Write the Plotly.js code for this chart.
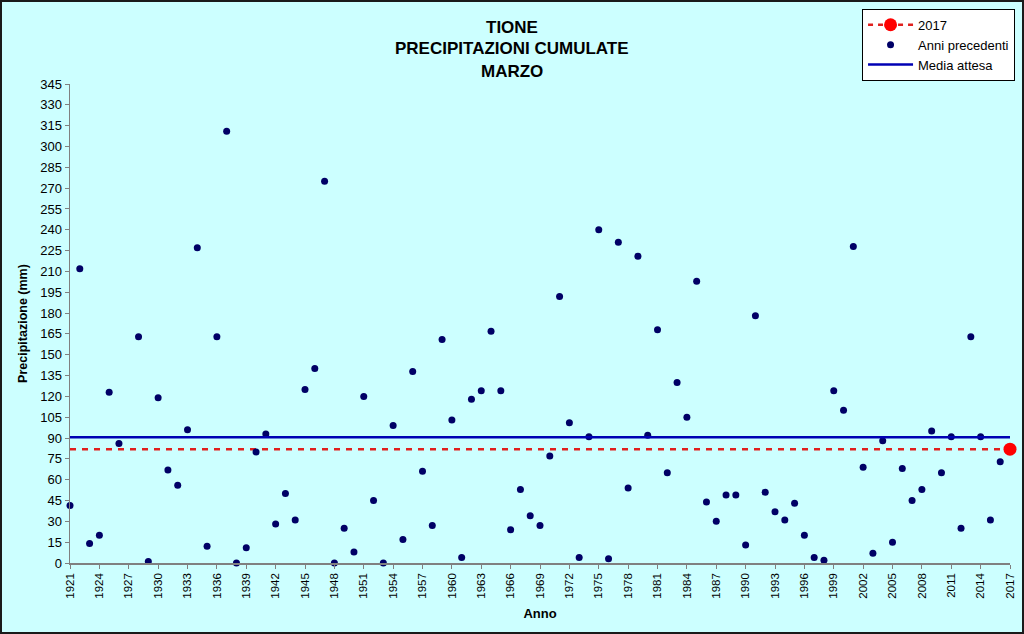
<!DOCTYPE html>
<html>
<head>
<meta charset="utf-8">
<script src="https://cdn.plot.ly/plotly-3.0.1.min.js"></script>
<style>
html,body{margin:0;padding:0;background:#CCFFFF;}
#wrap{position:relative;width:1024px;height:634px;}
#chart{width:1024px;height:634px;}
#frame{position:absolute;left:0;top:0;width:1024px;height:634px;box-sizing:border-box;border:2px solid #1a1a1a;pointer-events:none;}
</style>
</head>
<body>
<div id="wrap"><div id="chart"></div><div id="frame"></div></div>
<script>
// Data
const years = [1921,1922,1923,1924,1925,1926,1927,1928,1929,1930,
  1931,1932,1933,1934,1935,1936,1937,1938,1939,1940,
  1941,1942,1943,1944,1945,1946,1947,1948,1949,1950,
  1951,1952,1953,1954,1955,1956,1957,1958,1959,1960,
  1961,1962,1963,1964,1965,1966,1967,1968,1969,1970,
  1971,1972,1973,1974,1975,1976,1977,1978,1979,1980,
  1981,1982,1983,1984,1985,1986,1987,1988,1989,1990,
  1991,1992,1993,1994,1995,1996,1997,1998,1999,2000,
  2001,2002,2003,2004,2005,2006,2007,2008,2009,2010,
  2011,2012,2013,2014,2015,2016];
const precipPrevious = [41.5,212,14,20,123,86,null,163,1,119,
  67,56,96,227,12,163,311,0,11,80,
  93,28,50,31,125,140,275,0,25,8,
  120,45,0,99,17,138,66,27,161,103,
  4,118,124,167,124,24,53,34,27,77,
  192,101,4,91,240,3,231,54,221,92,
  168,65,130,105,203,44,30,49,49,13,
  178,51,37,31,43,20,4,2,124,110,
  228,69,7,88,15,68,45,53,95,65,
  91,25,163,91,31,73];
const currentYear = [2017];
const currentValue = [82];
const mediaAttesa = [90.5];
const firstYear = years[0];
const lastYear = currentYear[0];

const font = "Liberation Sans, Arial, sans-serif";

const traces = [
  {
    x: [firstYear, lastYear], y: [currentValue[0], currentValue[0]],
    mode: 'lines', type: 'scatter', showlegend: false, hoverinfo: 'skip',
    line: {color: '#E0201E', width: 2.5, dash: '6px,6px'}, legendgroup: 'c'
  },
  {
    x: currentYear, y: currentValue, name: '2017', legendgroup: 'c',
    mode: 'lines+markers', type: 'scatter', cliponaxis: false,
    line: {color: '#E0201E', width: 2.5, dash: '5px,5px'},
    marker: {color: '#FF0000', size: 13, symbol: 'circle'}
  },
  {
    x: years, y: precipPrevious, name: 'Anni precedenti',
    mode: 'markers', type: 'scatter', cliponaxis: false,
    marker: {color: '#000066', size: 7, symbol: 'circle'}
  },
  {
    x: [firstYear, lastYear], y: [mediaAttesa[0], mediaAttesa[0]], name: 'Media attesa',
    mode: 'lines', type: 'scatter',
    line: {color: '#0000B4', width: 2.5}
  }
];

const tx = (512-70)/940;
const layout = {
  width: 1024, height: 634,
  paper_bgcolor: '#CCFFFF', plot_bgcolor: '#CCFFFF',
  margin: {l: 70, r: 14, t: 84, b: 71, autoexpand: false},
  font: {family: font, color: '#000000'},
  showlegend: true,
  legend: {
    x: 0.8426, y: 1.157, xanchor: 'left', yanchor: 'top',
    bgcolor: '#FFFFFF', bordercolor: '#000000', borderwidth: 1,
    font: {family: font, size: 13, color: '#000000'},
    itemwidth: 45, tracegroupgap: 0
  },
  annotations: [
    {text: '<b>TIONE</b>', xref: 'paper', yref: 'paper', x: tx, y: (563-27)/479, showarrow: false, xanchor: 'center', yanchor: 'middle', font: {family: font, size: 17}},
    {text: '<b>PRECIPITAZIONI CUMULATE</b>', xref: 'paper', yref: 'paper', x: tx, y: (563-49)/479, showarrow: false, xanchor: 'center', yanchor: 'middle', font: {family: font, size: 17}},
    {text: '<b>MARZO</b>', xref: 'paper', yref: 'paper', x: tx, y: (563-71)/479, showarrow: false, xanchor: 'center', yanchor: 'middle', font: {family: font, size: 17}}
  ],
  xaxis: {
    range: [firstYear, lastYear], tick0: 1921, dtick: 3, tickmode: 'linear',
    showgrid: false, zeroline: false, showline: true, linecolor: '#808080', linewidth: 1.5,
    ticks: 'outside', ticklen: 4, tickcolor: '#808080', tickangle: -90,
    tickfont: {family: font, size: 11.5, color: '#000000'},
    title: {text: '<b>Anno</b>', font: {family: font, size: 13}, standoff: 11}
  },
  yaxis: {
    range: [0, 345], tick0: 0, dtick: 15, tickmode: 'linear',
    showgrid: false, zeroline: false, showline: true, linecolor: '#808080', linewidth: 1.5,
    ticks: 'outside', ticklen: 4, tickcolor: '#808080',
    tickfont: {family: font, size: 13, color: '#000000'},
    title: {text: '<b>Precipitazione (mm)</b>', font: {family: font, size: 12.5}, standoff: 10}
  }
};

Plotly.newPlot('chart', traces, layout, {displayModeBar: false, staticPlot: true});
</script>
</body>
</html>
